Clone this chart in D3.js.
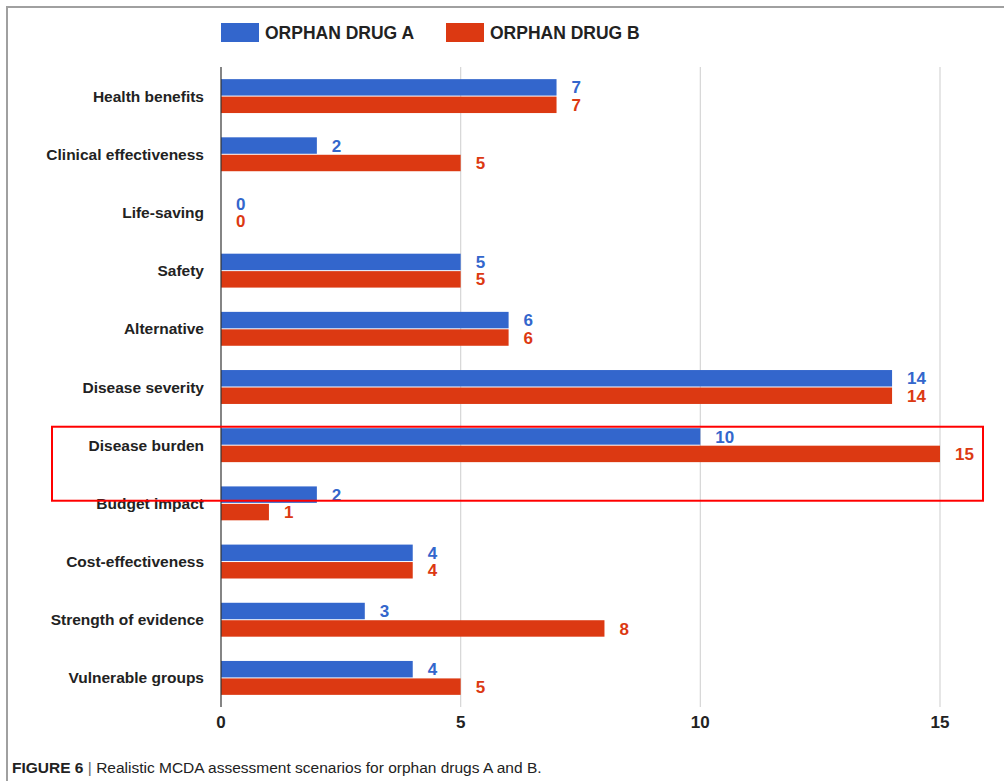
<!DOCTYPE html>
<html>
<head>
<meta charset="utf-8">
<script src="https://cdn.jsdelivr.net/npm/d3@7"></script>
<style>
  html, body { margin: 0; padding: 0; background: #fff; }
  svg { display: block; }
  text { font-family: "Liberation Sans", Arial, sans-serif; }
</style>
</head>
<body>
<svg id="chart" width="1004" height="781"></svg>
<script>
// Criteria scored in the MCDA scenarios
const categories = [
  "Health benefits", "Clinical effectiveness", "Life-saving", "Safety",
  "Alternative", "Disease severity", "Disease burden", "Budget impact",
  "Cost-effectiveness", "Strength of evidence", "Vulnerable groups"
];
const drugA = [7, 2, 0, 5, 6, 14, 10, 2, 4, 3, 4];
const drugB = [7, 5, 0, 5, 6, 14, 15, 1, 4, 8, 5];
const seriesNames = ["ORPHAN DRUG A", "ORPHAN DRUG B"];
const xTicks = [0, 5, 10, 15];
const highlighted = "Disease burden";

const colors = ["#3366cc", "#dc3912"];
const svg = d3.select("#chart");

const x = d3.scaleLinear().domain([0, 15]).range([221, 940]);
const y = d3.scaleBand().domain(categories).range([67, 707]).paddingInner(0.4).paddingOuter(0.2);
const sub = d3.scaleBand().domain([0, 1]).range([0, y.bandwidth()]);

// figure frame (top and left edges)
svg.append("path")
  .attr("d", "M7,781 V7 H1004")
  .attr("fill", "none").attr("stroke", "#a0a0a0").attr("stroke-width", 2);

// vertical gridlines
svg.append("g").selectAll("line").data(xTicks.slice(1)).join("line")
  .attr("x1", d => x(d)).attr("x2", d => x(d))
  .attr("y1", 67).attr("y2", 707)
  .attr("stroke", "#d6d6d6").attr("stroke-width", 1.2);

// bars
const series = [drugA, drugB];
const groups = svg.append("g").selectAll("g").data(categories).join("g")
  .attr("transform", d => `translate(0,${y(d)})`);

series.forEach((vals, si) => {
  groups.append("rect")
    .attr("x", x(0))
    .attr("y", sub(si) + 0.5)
    .attr("width", (d, i) => x(vals[i]) - x(0))
    .attr("height", sub.bandwidth() - 1)
    .attr("fill", colors[si]);
  groups.append("text")
    .attr("x", (d, i) => x(vals[i]) + 15)
    .attr("y", sub(si) + sub.bandwidth() / 2)
    .attr("dy", "0.36em")
    .attr("fill", colors[si])
    .attr("font-size", 17).attr("font-weight", "bold")
    .text((d, i) => vals[i]);
});

// zero baseline
svg.append("line")
  .attr("x1", x(0)).attr("x2", x(0)).attr("y1", 67).attr("y2", 707)
  .attr("stroke", "#333").attr("stroke-width", 1.2);

// category labels
svg.append("g").selectAll("text").data(categories).join("text")
  .attr("x", 204)
  .attr("y", d => y(d) + y.bandwidth() / 2)
  .attr("dy", "0.36em")
  .attr("text-anchor", "end")
  .attr("fill", "#222")
  .attr("font-size", 15.5).attr("font-weight", "bold")
  .text(d => d);

// x axis tick labels
svg.append("g").selectAll("text").data(xTicks).join("text")
  .attr("x", d => x(d))
  .attr("y", 722)
  .attr("dy", "0.36em")
  .attr("text-anchor", "middle")
  .attr("fill", "#222")
  .attr("font-size", 17).attr("font-weight", "bold")
  .text(d => d);

// legend
const legend = svg.append("g").selectAll("g").data(seriesNames).join("g")
  .attr("transform", (d, i) => `translate(${221 + i * 225},23)`);
legend.append("rect").attr("width", 38).attr("height", 19)
  .attr("fill", (d, i) => colors[i]);
legend.append("text")
  .attr("x", 44).attr("y", 10).attr("dy", "0.36em")
  .attr("fill", "#222").attr("font-size", 17.5).attr("font-weight", "bold")
  .text(d => d);

// highlight box around the disease burden criterion
const hy = y(highlighted);
svg.append("rect")
  .attr("x", 52).attr("y", hy - 1)
  .attr("width", 931).attr("height", 74)
  .attr("fill", "none").attr("stroke", "#ff0000").attr("stroke-width", 2);

// caption
const cap = svg.append("text").attr("x", 12).attr("y", 767).attr("dy", "0.36em")
  .attr("font-size", 15.5).attr("fill", "#222");
cap.append("tspan").attr("font-weight", "bold").text("FIGURE 6");
cap.append("tspan").attr("fill", "#666").text(" | ");
cap.append("tspan").text("Realistic MCDA assessment scenarios for orphan drugs A and B.");
</script>
</body>
</html>
